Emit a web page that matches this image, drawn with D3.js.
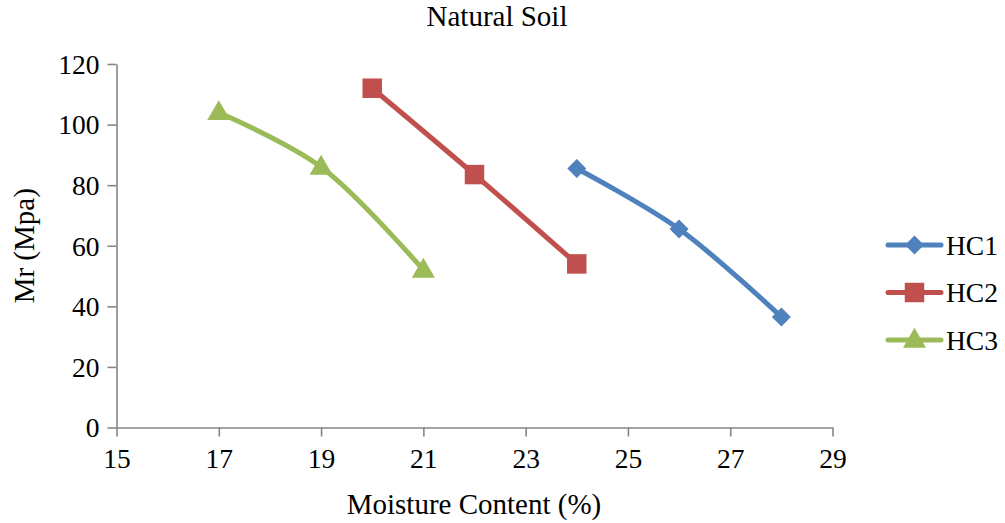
<!DOCTYPE html>
<html>
<head>
<meta charset="utf-8">
<script src="https://cdn.jsdelivr.net/npm/d3@7"></script>
<style>
  html, body { margin: 0; padding: 0; background: #fff; }
  svg { display: block; }
  svg text { font-family: "Liberation Serif", "DejaVu Serif", serif !important; }
</style>
</head>
<body>
<svg id="chart" width="1005" height="523"></svg>
<script>
// Moisture content (%) and resilient modulus Mr (MPa) for each sample
const seriesNames = ["HC1", "HC2", "HC3"];
const hc1Moisture = [24, 26, 28];
const hc1Mr = [85.5, 65.5, 36.5];
const hc2Moisture = [20, 22, 24];
const hc2Mr = [112, 83.5, 54];
const hc3Moisture = [17, 19, 21];
const hc3Mr = [104, 86, 52];
const xTicks = [15, 17, 19, 21, 23, 25, 27, 29];
const yTicks = [0, 20, 40, 60, 80, 100, 120];

const colors = ["#4F81BD", "#C0504D", "#9BBB59"];
// diamond = square rotated 45 degrees
const symbols = [d3.symbolSquare, d3.symbolSquare, d3.symbolTriangle];
const symbolSizes = [180, 380, 230];
const symbolRotate = [45, 0, 0];

const series = [
  { name: seriesNames[0], pts: hc1Moisture.map((x, i) => ({ x, y: hc1Mr[i] })) },
  { name: seriesNames[1], pts: hc2Moisture.map((x, i) => ({ x, y: hc2Mr[i] })) },
  { name: seriesNames[2], pts: hc3Moisture.map((x, i) => ({ x, y: hc3Mr[i] })) }
];

const svg = d3.select("#chart");
const axisColor = "#868686";

const x = d3.scaleLinear().domain([15, 29]).range([116.5, 832.5]);
const y = d3.scaleLinear().domain([0, 120]).range([427.5, 64]);

// Title
svg.append("text")
  .attr("x", 497).attr("y", 26)
  .attr("text-anchor", "middle")
  .attr("font-size", 29)
  .attr("fill", "#000")
  .text("Natural Soil");

// Axes
const xAxis = svg.append("g")
  .attr("transform", `translate(0,${y(0)})`)
  .call(d3.axisBottom(x).tickValues(xTicks).tickSize(9).tickSizeOuter(0).tickPadding(8));
const yAxis = svg.append("g")
  .attr("transform", `translate(${x(15)},0)`)
  .call(d3.axisLeft(y).tickValues(yTicks).tickSize(9).tickSizeOuter(0).tickPadding(8));

[xAxis, yAxis].forEach(g => {
  g.attr("font-family", null);
  g.select(".domain").attr("stroke", axisColor).attr("stroke-width", 1.6);
  g.selectAll(".tick line").attr("stroke", axisColor).attr("stroke-width", 1.6);
  g.selectAll(".tick text")
    .attr("fill", "#000")
    .attr("font-size", 27.5);
});
yAxis.selectAll(".tick text").attr("dy", "0.34em");
xAxis.selectAll(".tick text").attr("dy", "0.85em");

// Axis titles
svg.append("text")
  .attr("x", 474).attr("y", 514)
  .attr("text-anchor", "middle")
  .attr("font-size", 29)
  .text("Moisture Content (%)");
svg.append("text")
  .attr("transform", `translate(34,${(y(0) + y(120)) / 2}) rotate(-90)`)
  .attr("text-anchor", "middle")
  .attr("font-size", 29)
  .text("Mr (Mpa)");

// Smoothed series lines
const line = d3.line()
  .x(d => x(d.x))
  .y(d => y(d.y))
  .curve(d3.curveCatmullRom.alpha(0.5));

series.forEach((s, i) => {
  svg.append("path")
    .datum(s.pts)
    .attr("fill", "none")
    .attr("stroke", colors[i])
    .attr("stroke-width", 5)
    .attr("stroke-linejoin", "round")
    .attr("stroke-linecap", "round")
    .attr("d", line);
});

// Markers
series.forEach((s, i) => {
  const sym = d3.symbol().type(symbols[i]).size(symbolSizes[i]);
  svg.append("g").selectAll("path")
    .data(s.pts)
    .join("path")
    .attr("transform", d => `translate(${x(d.x)},${y(d.y) + (i === 2 ? 1 : 0)}) rotate(${symbolRotate[i]})`)
    .attr("d", sym)
    .attr("fill", colors[i]);
});

// Legend
const legend = svg.append("g");
series.forEach((s, i) => {
  const ly = 245 + i * 47.5;
  legend.append("line")
    .attr("x1", 888).attr("x2", 941)
    .attr("y1", ly).attr("y2", ly)
    .attr("stroke", colors[i])
    .attr("stroke-width", 5)
    .attr("stroke-linecap", "round");
  legend.append("path")
    .attr("transform", `translate(914.5,${ly + (i === 2 ? 1 : 0)}) rotate(${symbolRotate[i]})`)
    .attr("d", d3.symbol().type(symbols[i]).size(symbolSizes[i])())
    .attr("fill", colors[i]);
  legend.append("text")
    .attr("x", 946).attr("y", ly)
    .attr("dy", "0.35em")
    .attr("font-size", 27.5)
    .text(s.name);
});
</script>
</body>
</html>
